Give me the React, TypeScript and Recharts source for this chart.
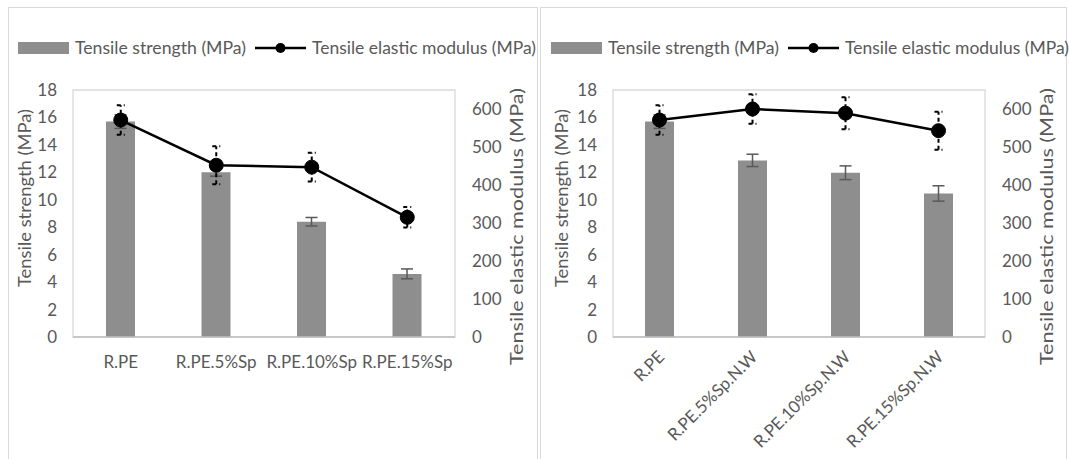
import React from "react";
import {
  ComposedChart,
  Bar,
  Line,
  XAxis,
  YAxis,
  ErrorBar,
  Legend,
  ReferenceArea,
} from "recharts";

const FONT = "Lato, 'Open Sans', sans-serif";
const TEXT = "#595959";
const BAR = "#8e8e8e";
const FS = 17;

// left panel
const catsSp = ["R.PE", "R.PE.5%Sp", "R.PE.10%Sp", "R.PE.15%Sp"];
const strengthSp = [15.7, 12.0, 8.4, 4.6];
const strengthErrSp = [0.5, 0.28, 0.31, 0.36];
const modulusSp = [571, 452, 447, 315];
const modulusErrSp = [39, 50, 38, 27];

// right panel
const catsNW = ["R.PE", "R.PE.5%Sp.N.W", "R.PE.10%Sp.N.W", "R.PE.15%Sp.N.W"];
const strengthNW = [15.7, 12.87, 11.97, 10.46];
const strengthErrNW = [0.5, 0.45, 0.5, 0.56];
const modulusNW = [571, 600, 589, 543];
const modulusErrNW = [39, 39, 42, 50];

const leftTicks = [0, 2, 4, 6, 8, 10, 12, 14, 16, 18];
const rightTicks = [0, 100, 200, 300, 400, 500, 600];

function buildRows(cats: string[], s: number[], se: number[], m: number[], me: number[]) {
  return cats.map((name, i) => ({
    name,
    strength: s[i],
    strengthErr: se[i],
    modulus: m[i],
    modulusErr: me[i],
  }));
}

function LegendBox() {
  return (
    <svg width={520} height={22} style={{ display: "block" }}>
      <rect x={0} y={5} width={51} height={12} fill={BAR} />
      <text x={57} y={11} dy="0.35em" fontFamily={FONT} fontSize={FS} style={{ fill: TEXT }}
        textLength={171} lengthAdjust="spacingAndGlyphs">Tensile strength (MPa)</text>
      <line x1={237} x2={288} y1={11} y2={11} stroke="#000" strokeWidth={2.5} />
      <circle cx={262.5} cy={11} r={5} fill="#000" />
      <text x={294} y={11} dy="0.35em" fontFamily={FONT} fontSize={FS} style={{ fill: TEXT }}
        textLength={224} lengthAdjust="spacingAndGlyphs">Tensile elastic modulus (MPa)</text>
    </svg>
  );
}

function VTitle({ cx, cy, len, text }: { cx: number; cy: number; len: number; text: string }) {
  return (
    <text x={cx} y={cy} transform={`rotate(-90, ${cx}, ${cy})`} textAnchor="middle" dy="0.35em"
      fontFamily={FONT} fontSize={FS + 1} style={{ fill: TEXT }} textLength={len} lengthAdjust="spacingAndGlyphs">
      {text}
    </text>
  );
}

function RotatedTick(props: any) {
  const { x, y, payload } = props;
  return (
    <g transform={`translate(${x + 6},${y + 21})`}>
      <text textAnchor="end" transform="rotate(-45)" fontFamily={FONT} fontSize={FS} style={{ fill: TEXT }}>
        {payload.value}
      </text>
    </g>
  );
}

interface PanelProps {
  rows: ReturnType<typeof buildRows>;
  width: number;
  leftW: number;
  rightW: number;
  rotated: boolean;
  leftTitleX: number;
  rightTitleX: number;
  legendLeft: number;
}

function Panel({ rows, width, leftW, rightW, rotated, leftTitleX, rightTitleX, legendLeft }: PanelProps) {
  const tickStyle = { fontSize: FS, fill: TEXT, fontFamily: FONT };
  return (
    <ComposedChart width={width} height={452} data={rows} margin={{ top: 61, right: 0, bottom: 0, left: 0 }}>
      <Legend
        layout="vertical"
        align="center"
        verticalAlign="top"
        content={() => <LegendBox />}
        wrapperStyle={{ top: 29.5, left: legendLeft, width: 520 }}
      />
      <ReferenceArea yAxisId="left" y1={0} y2={18} fill="none" stroke="#d9d9d9" strokeWidth={1.3} />
      <XAxis
        dataKey="name"
        height={122}
        axisLine={{ stroke: "#bfbfbf", strokeWidth: 1.3 }}
        tickLine={false}
        tickSize={0}
        tickMargin={rotated ? 0 : 19}
        interval={0}
        tick={rotated ? <RotatedTick /> : tickStyle}
      />
      <YAxis
        yAxisId="left"
        domain={[0, 18]}
        ticks={leftTicks}
        width={leftW}
        axisLine={false}
        tickLine={false}
        tickSize={0}
        tickMargin={16}
        tick={tickStyle}
        label={<VTitle cx={leftTitleX} cy={191} len={178} text="Tensile strength (MPa)" />}
      />
      <YAxis
        yAxisId="right"
        orientation="right"
        domain={[0, 650]}
        ticks={rightTicks}
        width={rightW}
        axisLine={false}
        tickLine={false}
        tickSize={0}
        tickMargin={17}
        tick={{ ...tickStyle, textAnchor: "start" }}
        label={<VTitle cx={rightTitleX} cy={219.5} len={277} text="Tensile elastic modulus (MPa)" />}
      />
      <Bar yAxisId="left" dataKey="strength" fill={BAR} barSize={29} isAnimationActive={false}>
        <ErrorBar dataKey="strengthErr" width={6} stroke="#595959" strokeWidth={1.5} isAnimationActive={false} />
      </Bar>
      <Line
        yAxisId="right"
        dataKey="modulus"
        stroke="#000"
        strokeWidth={2.5}
        dot={{ r: 7, fill: "#000", stroke: "#000", strokeWidth: 1 }}
        activeDot={false}
        isAnimationActive={false}
      >
        <ErrorBar dataKey="modulusErr" width={4} stroke="#000" strokeWidth={2} strokeDasharray="4 3" isAnimationActive={false} />
      </Line>
    </ComposedChart>
  );
}

export default function App() {
  const rowsSp = buildRows(catsSp, strengthSp, strengthErrSp, modulusSp, modulusErrSp);
  const rowsNW = buildRows(catsNW, strengthNW, strengthErrNW, modulusNW, modulusErrNW);
  const border = {
    position: "absolute" as const,
    inset: 0,
    border: "1.3px solid #d9d9d9",
    boxSizing: "border-box" as const,
    pointerEvents: "none" as const,
  };
  return (
    <div style={{ position: "fixed", left: 0, top: 0, width: 1069, height: 459, overflow: "hidden", background: "#fff" }}>
      <div style={{ position: "absolute", left: 8, top: 7, width: 530, height: 470 }}>
        <div style={border} />
        <Panel rows={rowsSp} width={530} leftW={65} rightW={83} rotated={false}
          leftTitleX={17} rightTitleX={508.7} legendLeft={10} />
      </div>
      <div style={{ position: "absolute", left: 540, top: 7, width: 527, height: 470 }}>
        <div style={border} />
        <Panel rows={rowsNW} width={527} leftW={73} rightW={82} rotated={true}
          leftTitleX={21.7} rightTitleX={506.7} legendLeft={11.3} />
      </div>
    </div>
  );
}
